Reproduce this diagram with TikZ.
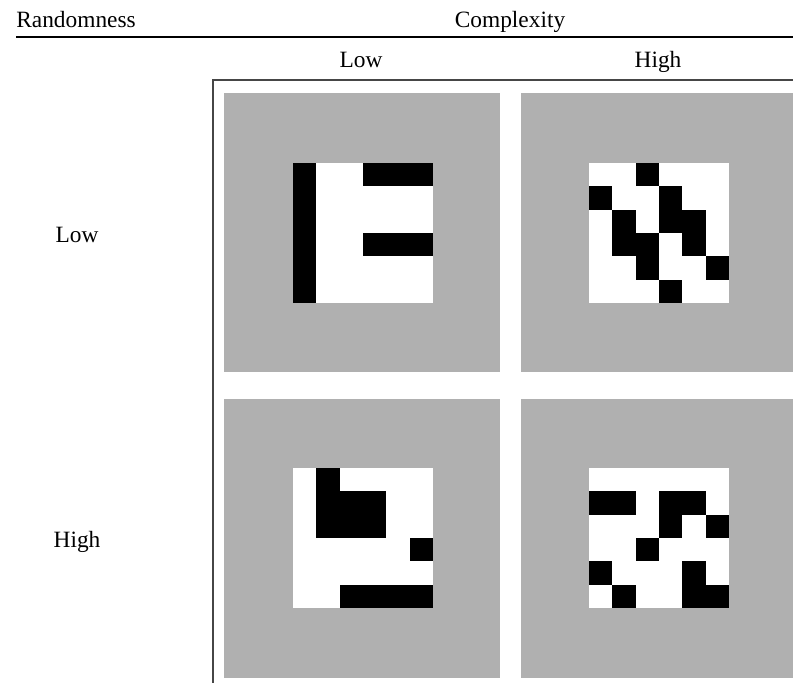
\documentclass[tikz,border=0pt]{standalone}
\usepackage{fontspec}
\setmainfont{Liberation Serif}

\definecolor{panelgray}{RGB}{176,176,176}
\definecolor{framegray}{RGB}{70,70,70}

\tikzset{
    lbl/.style={font=\fontsize{13.3}{16}\selectfont, inner sep=0pt, anchor=base},
    panel/.style={fill=panelgray},
    cellbox/.style={fill=black},
}

\newcommand{\cellsize}{23.33}
% patron 6x6: esquina superior izquierda y lista de celdas negras fila/columna
\newcommand{\patron}[3]{%
    \begin{scope}[shift={(#1,#2)}]
        \fill[white] (0,0) rectangle (140,140);
        \foreach \r/\c in {#3}
            \fill[cellbox] (\c*\cellsize,\r*\cellsize) rectangle ++(\cellsize,\cellsize);
    \end{scope}}

\begin{document}
\begin{tikzpicture}[x=0.02cm,y=-0.02cm]
    \useasboundingbox (0,0) rectangle (793,683);

    % cabecera
    \node[lbl, anchor=base west] (rand) at (16,27) {Randomness};
    \node[lbl] (comp) at (510,27) {Complexity};
    \draw[line width=0.6pt] (16,37) -- (793,37);
    \node[lbl] (collow) at (361,67) {Low};
    \node[lbl] (colhigh) at (658,67) {High};

    % marco
    \draw[line width=0.7pt, framegray] (793,80) -- (213,80) -- (213,683);

    % filas
    \node[lbl] (rowlow) at (77,242) {Low};
    \node[lbl] (rowhigh) at (77,547) {High};

    % fondos grises
    \foreach \px/\py/\w in {224/93/276, 521/93/272, 224/399/276, 521/399/272}
        \fill[panel] (\px,\py) rectangle ++(\w,279);

    % baja aleatoriedad
    \patron{293}{163}{0/0,1/0,2/0,3/0,4/0,5/0,0/3,0/4,0/5,3/3,3/4,3/5}
    \patron{589}{163}{0/2,1/0,1/3,2/1,2/3,2/4,3/1,3/2,3/4,4/2,4/5,5/3}

    % alta aleatoriedad
    \patron{293}{468}{0/1,1/1,1/2,1/3,2/1,2/2,2/3,3/5,5/2,5/3,5/4,5/5}
    \patron{589}{468}{1/0,1/1,1/3,1/4,2/3,2/5,3/2,4/0,4/4,5/1,5/4,5/5}

\end{tikzpicture}
\end{document}
